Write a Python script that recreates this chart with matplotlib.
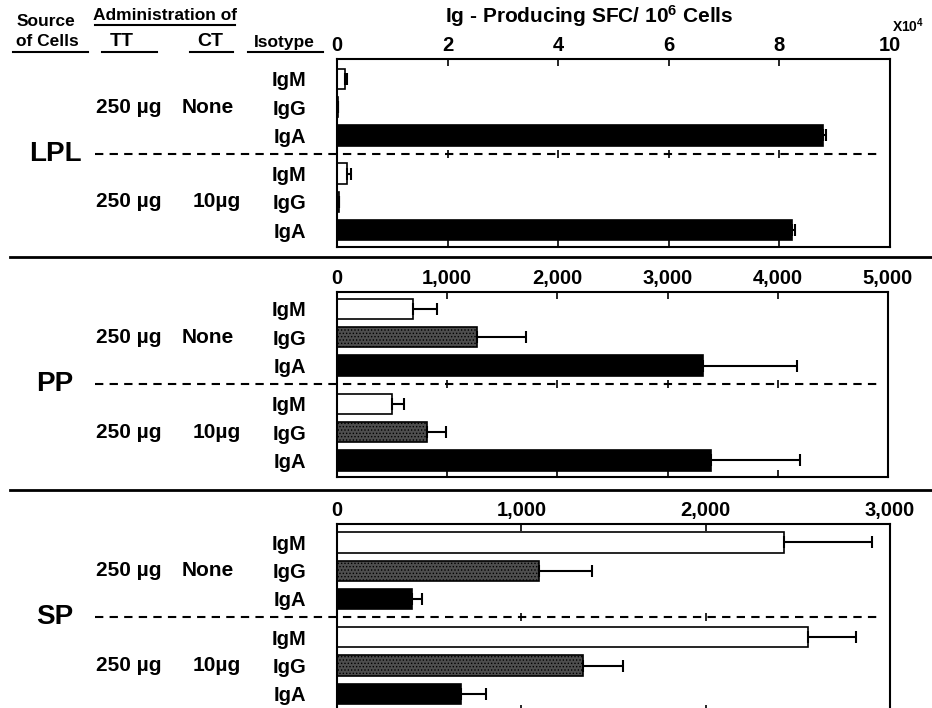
import numpy as np
import matplotlib.pyplot as plt
from matplotlib.lines import Line2D

plt.rcParams['font.family'] = ['Liberation Sans', 'DejaVu Sans']
plt.rcParams['font.weight'] = 'bold'
plt.rcParams['mathtext.fontset'] = 'custom'
plt.rcParams['mathtext.rm'] = 'Liberation Sans:bold'
plt.rcParams['mathtext.default'] = 'regular'
plt.rcParams['hatch.linewidth'] = 0.6

# data
isotypes = ['IgM', 'IgG', 'IgA', 'IgM', 'IgG', 'IgA']
sources = ['LPL', 'PP', 'SP']
tt_dose = ['250 µg', '250 µg']
ct_dose = ['None', '10µg']

lpl_vals = [0.15, 0.02, 8.78, 0.18, 0.03, 8.22]   # x10^4
lpl_err = [0.03, 0.0, 0.07, 0.07, 0.0, 0.07]
pp_vals = [690, 1270, 3320, 500, 815, 3390]
pp_err = [220, 445, 850, 105, 175, 810]
sp_vals = [2425, 1095, 405, 2555, 1335, 675]
sp_err = [480, 290, 55, 260, 215, 135]

lpl_ticks = [0, 2, 4, 6, 8, 10]
pp_ticks = [0, 1000, 2000, 3000, 4000, 5000]
sp_ticks = [0, 1000, 2000, 3000]
lpl_labels = ['0', '2', '4', '6', '8', '10']
pp_labels = ['0', '1,000', '2,000', '3,000', '4,000', '5,000']
sp_labels = ['0', '1,000', '2,000', '3,000']

W, H = 932, 708
def fx(px):
    return px / W
def fy(py):
    return 1 - py / H

rows = np.array([0, 1, 2, 3.35, 4.35, 5.35])
dash_y = 2.65
colors = ['white', '#4e4e4e', 'black'] * 2
unit_px = 28.3

# pixel boxes (left, right, top, bottom) and top offset in row units
boxes = [(337, 890, 59, 247, -0.70), (337, 888, 292, 477, -0.60), (337, 890, 524, 712, -0.65)]
panels = [(lpl_vals, lpl_err, lpl_ticks, lpl_labels),
          (pp_vals, pp_err, pp_ticks, pp_labels),
          (sp_vals, sp_err, sp_ticks, sp_labels)]

fig = plt.figure(figsize=(W / 100, H / 100), dpi=100)

for i, (vals, err, ticks, labels) in enumerate(panels):
    l, r, t, b, top = boxes[i]
    ax = fig.add_axes([fx(l), fy(b), (r - l) / W, (b - t) / H])
    bars = ax.barh(rows, vals, height=0.72, color=colors, edgecolor='black', linewidth=1.2)
    for k in (1, 4):
        bars[k].set_hatch('.....')
    ax.errorbar(vals, rows, xerr=[np.zeros(len(vals)), err], fmt='none', ecolor='black',
                elinewidth=1.5, capsize=4, capthick=1.5)
    ax.set_xlim(ticks[0], ticks[-1])
    ax.set_ylim(top + (b - t) / unit_px, top)
    ax.set_xticks(ticks, labels)
    ax.tick_params(axis='x', direction='in', top=True, bottom=True, labeltop=True,
                   labelbottom=False, length=5, width=1.2, pad=3, labelsize=14.5)
    ax.set_yticks(rows, isotypes)
    ax.tick_params(axis='y', length=0, pad=22, labelsize=14.5)
    for s in ax.spines.values():
        s.set_linewidth(1.5)

    tr = ax.get_yaxis_transform()
    def axx(px):
        return (px - l) / (r - l)
    ax.plot([axx(95), axx(880)], [dash_y, dash_y], transform=tr, color='black', lw=1.5,
            ls=(0, (4, 3)), clip_on=False)
    ax.plot(ticks[1:-1], [dash_y] * (len(ticks) - 2), ls='none', marker='|', ms=6, mew=1.2,
            color='black')
    ax.text(axx(55), dash_y, sources[i], transform=tr, ha='center', va='center', fontsize=20)
    ax.text(axx(129), rows[1], tt_dose[0], transform=tr, ha='center', va='center', fontsize=15)
    ax.text(axx(208), rows[1], ct_dose[0], transform=tr, ha='center', va='center', fontsize=15)
    ax.text(axx(129), rows[4], tt_dose[1], transform=tr, ha='center', va='center', fontsize=15)
    ax.text(axx(217), rows[4], ct_dose[1], transform=tr, ha='center', va='center', fontsize=15)

# separators between panels
for py in (257, 490):
    fig.add_artist(Line2D([fx(10), fx(932)], [fy(py), fy(py)], color='black', lw=2))

# header
fig.text(fx(589), fy(16), 'Ig - Producing SFC/ 10$^{6}$ Cells', ha='center', va='center', fontsize=15)
fig.text(fx(908), fy(26), 'X10$^{4}$', ha='center', va='center', fontsize=10)
fig.text(fx(46), fy(22), 'Source', ha='center', va='center', fontsize=12.5)
fig.text(fx(47), fy(41), 'of Cells', ha='center', va='center', fontsize=12.5)
fig.text(fx(165), fy(16), 'Administration of', ha='center', va='center', fontsize=12.5)
fig.text(fx(122), fy(41), 'TT', ha='center', va='center', fontsize=14)
fig.text(fx(210), fy(41), 'CT', ha='center', va='center', fontsize=14)
fig.text(fx(284), fy(42), 'Isotype', ha='center', va='center', fontsize=12.5)
for x0, x1, py in [(13, 88, 52), (95, 235, 25), (102, 157, 52), (190, 233, 52), (248, 323, 52)]:
    fig.add_artist(Line2D([fx(x0), fx(x1)], [fy(py), fy(py)], color='black', lw=1.5))

fig.savefig('out.png', dpi=100)
